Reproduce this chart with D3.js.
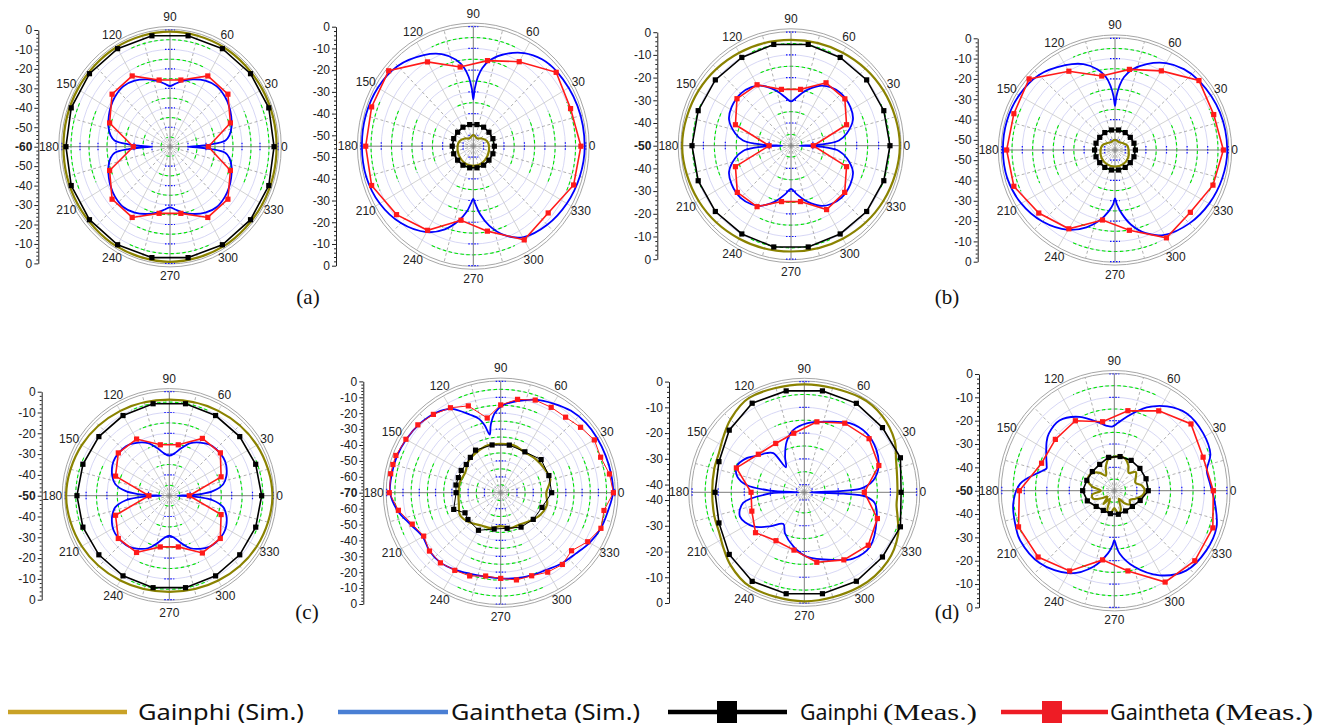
<!DOCTYPE html>
<html lang="en">
<head>
<meta charset="utf-8">
<style>
  body { margin: 0; background: #fff; }
  svg { font-family: 'Liberation Sans', Arial, sans-serif; background: #fff; }
  .grid-ring { fill: none; stroke: #cdcdf2; stroke-width: 0.8; }
  .outer-ring { fill: none; stroke: #a6a6a6; stroke-width: 1; }
  .spoke { stroke: #c6c6c6; stroke-width: 0.8; }
  .spoke.minor { stroke: #9c9c9c; stroke-dasharray: 3, 2.5; }
  .main-axis { stroke: #7c7c7c; stroke-width: 1; }
  .green-arc { fill: none; stroke: #00e600; stroke-width: 1.1; stroke-dasharray: 3.5, 2.5; }
  .blue-tick { stroke: #1414ff; stroke-width: 1.2; stroke-dasharray: 1.5, 1.5; }
  .angle-label { font-size: 12px; fill: #222; }
  .r-axis path, .r-axis line { stroke: #222; }
  .r-axis text { font-size: 12px; fill: #222; font-family: 'Liberation Sans', Arial, sans-serif; }
  .phi-sim { fill: none; stroke: #8a8200; stroke-width: 2.2; }
  .theta-sim { fill: none; stroke: #0000ff; stroke-width: 1.8; }
  .phi-meas { fill: none; stroke: #000; stroke-width: 1.6; }
  .theta-meas { fill: none; stroke: #ff1a1a; stroke-width: 1.6; }
  .thin .phi-meas, .thin .theta-meas { stroke-width: 1; }
  .panel-tag { font-family: 'Liberation Serif', 'Times New Roman', serif; font-size: 21px; fill: #111; }
  .legend text { font-family: 'Noto Sans', 'Open Sans', sans-serif; font-size: 22px; fill: #111; }
  .legend text.serif { font-family: 'Liberation Serif', 'Times New Roman', serif; font-size: 23px; }
</style>
</head>
<body>
<svg width="1320" height="728"></svg>
<script src="https://cdn.jsdelivr.net/npm/d3@7"></script>
<script>
// measured points are every 20 deg unless given as [angle, dB] pairs
const ang20 = [0, 20, 40, 60, 80, 100, 120, 140, 160, 180, 200, 220, 240, 260, 280, 300, 320, 340];
const angleTicks = [0, 30, 60, 90, 120, 150, 180, 210, 240, 270, 300, 330];
const panelTags = ["(a)", "(b)", "(c)", "(d)"];

// ---- (a) left ----
const a1PhiSim = [[0,-0.8],[30,-0.8],[60,-0.8],[90,-0.8],[120,-0.8],[150,-0.8],[180,-0.8],[210,-0.8],[240,-0.8],[270,-0.8],[300,-0.8],[330,-0.8]];
const a1ThetaSim = [[0,-50],[1.5,-44],[3,-37],[6,-29],[10,-26.5],[17,-24.2],[25,-22.5],[32,-21.2],[40,-20.1],[50,-19.5],[60,-20.8],[70,-23.2],[78,-25.4],[85,-27.6],[90,-28.8],[95,-27.6],[102,-25.4],[110,-23.2],[120,-20.8],[130,-19.5],[140,-20.1],[148,-21.2],[155,-22.5],[163,-24.2],[170,-26.5],[174,-29],[177,-37],[178.5,-44],[180,-50],[181.5,-44],[183,-37],[186,-29],[190,-26.5],[197,-24.2],[205,-22.5],[212,-21.2],[220,-20.1],[230,-19.5],[240,-20.8],[250,-23.2],[258,-25.4],[265,-27.6],[270,-28.8],[275,-27.6],[282,-25.4],[290,-23.2],[300,-20.8],[310,-19.5],[320,-20.1],[328,-21.2],[335,-22.5],[343,-24.2],[350,-26.5],[354,-29],[357,-37],[358.5,-44]];
const a1PhiMeas = [-2.2,-1.6,-1.6,-1.8,-2.1,-2.1,-1.8,-1.6,-1.6,-2.2,-1.6,-1.6,-1.8,-2.1,-2.1,-1.8,-1.6,-1.6];
const a1ThetaMeas = [-38.7,-24.3,-18,-18,-25.2,-25.2,-18,-18,-24.3,-39.6,-24.3,-18,-18,-25.2,-25.2,-18,-18,-24.3];

// ---- (a) right ----
const a2PhiSim = [[0,-47.3],[20,-47.9],[40,-49.5],[60,-50.9],[75,-50.6],[90,-49.8],[105,-50.6],[120,-50.9],[140,-49.5],[160,-47.9],[180,-47.3],[210,-46.8],[240,-46.2],[270,-45.9],[300,-46.2],[330,-46.8]];
const a2ThetaSim = [[0,-0.55],[20,-0.8],[40,-1.65],[50,-2.75],[60,-5.5],[70,-9.9],[78,-14.3],[83,-18.7],[86,-23.1],[88.5,-28.6],[90,-33.5],[91.5,-28.6],[94,-23.1],[97,-18.7],[102,-14.3],[110,-9.9],[120,-6.6],[135,-2.75],[150,-1.1],[165,-0.55],[180,-0.55],[195,-0.8],[210,-2.2],[225,-4.95],[240,-9.35],[250,-14.3],[258,-19.8],[264,-24.75],[268,-29.15],[270,-30.8],[272,-28.6],[276,-23.65],[282,-17.6],[290,-11.55],[300,-6.6],[315,-3.85],[330,-2.2],[345,-1.1]];
const a2PhiMeas = [-44.7,-44.8,-45,-44.9,-44.9,-44.9,-44.9,-45,-44.8,-44.7,-44.8,-45,-44.9,-44.9,-44.9,-44.9,-45,-44.8];
const a2ThetaMeas = [-2.4,-4.4,-2.1,-10.1,-15,-18,-10.2,-1,-2.1,-2.4,-2.1,-6,-10.3,-20.4,-15.3,-5.2,-7.2,-2.8];

// ---- (b) left ----
const b1PhiSim = [[0,-0.3],[30,-1.3],[60,-2.7],[90,-3.4],[120,-2.7],[150,-1.3],[180,-0.3],[210,-1.3],[240,-2.7],[270,-3.4],[300,-2.7],[330,-1.3]];
const b1ThetaSim = [[0,-46],[1.5,-39],[3,-33.5],[6,-28],[12,-24],[22,-19.5],[32,-18],[45,-17.5],[55,-18.5],[62,-20],[70,-23],[76,-25.5],[83,-28.5],[90,-30.5],[97,-28.5],[104,-25.5],[110,-23],[118,-20],[125,-18.5],[135,-17.5],[148,-18],[158,-19.5],[168,-24],[174,-28],[177,-33.5],[178.5,-39],[180,-46],[181.5,-39],[183,-33.5],[186,-28],[192,-24],[202,-19.5],[212,-18],[225,-17.5],[235,-18.5],[242,-20],[250,-23],[256,-25.5],[263,-28.5],[270,-31],[277,-28.5],[284,-25.5],[290,-23],[298,-20],[305,-18.5],[315,-17.5],[328,-18],[338,-19.5],[348,-24],[354,-28],[357,-33.5],[358.5,-39]];
const b1PhiMeas = [-4.8,-4.9,-4.9,-5.1,-4.7,-4.7,-5.1,-4.9,-4.9,-4.8,-4.9,-4.9,-5.1,-4.7,-4.7,-5.1,-4.9,-4.9];
const b1ThetaMeas = [-39.8,-23,-17.9,-18,-24.8,-24.8,-19,-17.8,-23,-40,-23,-18,-19,-25,-25,-17.5,-18,-23];

// ---- (b) right ----
const b2PhiSim = [[0,-48.4],[20,-48.6],[40,-49.8],[60,-50.6],[75,-50.4],[90,-50],[105,-50.4],[120,-50.6],[140,-49.8],[160,-48.4],[180,-48],[210,-47.4],[240,-47],[270,-46.8],[300,-47],[330,-47.6]];
const b2ThetaSim = [[0,-0.5],[20,-0.8],[40,-1.8],[50,-3],[60,-5.6],[70,-10],[78,-14.5],[83,-18.8],[86,-23.2],[88.5,-28.5],[90,-33.3],[91.5,-28.5],[94,-23.2],[97,-18.8],[102,-14.5],[110,-10],[120,-6.8],[135,-2.8],[150,-1.2],[165,-0.6],[180,-0.6],[195,-0.9],[210,-2.4],[225,-5.2],[240,-9.6],[250,-14.5],[258,-19.6],[264,-24.5],[268,-28.2],[270,-31.2],[272,-28.2],[276,-23.5],[282,-17.4],[290,-11.4],[300,-6.8],[315,-3.9],[330,-2.2],[345,-1.1]];
const b2PhiMeas = [-45.1,-45.2,-45.3,-45.1,-45,-45,-45.1,-45.3,-45.2,-45.1,-45.2,-45.3,-45.1,-45,-45,-45.1,-45.3,-45.2];
const b2ThetaMeas = [-2.4,-4,-1.8,-10,-14.7,-18,-10.2,-0.55,-2.75,-2.4,-2.75,-6.7,-10.2,-20,-14.85,-5.05,-7.25,-4.4];

// ---- (c) left ----
const c1PhiSim = [[0,-0.4],[30,-1.4],[60,-2.9],[90,-3.8],[120,-2.9],[150,-1.4],[180,-0.4],[210,-1.4],[240,-2.9],[270,-3.8],[300,-2.9],[330,-1.4]];
const c1ThetaSim = [[0,-46],[1.5,-40],[3,-35],[6,-29],[12,-23.5],[19,-21],[28,-19],[35,-18.25],[45,-18.25],[52,-18.75],[60,-20.5],[68,-22.75],[76,-26.5],[83,-29.5],[90,-30.75],[97,-29.5],[104,-26.5],[112,-22.75],[120,-20.5],[128,-18.75],[135,-18.25],[145,-18.25],[152,-19],[161,-21],[168,-23.5],[174,-29],[177,-35],[178.5,-40],[180,-46],[181.5,-40],[183,-35],[186,-29],[192,-23.5],[199,-21],[208,-19],[215,-18.25],[225,-18.25],[232,-18.75],[240,-20.5],[248,-22.75],[256,-26.5],[263,-29.5],[270,-30.75],[277,-29.5],[284,-26.5],[292,-22.75],[300,-20.5],[308,-18.75],[315,-18.25],[325,-18.25],[332,-19],[341,-21],[348,-23.5],[354,-29],[357,-35],[358.5,-40]];
const c1PhiMeas = [-5.6,-5.8,-5.8,-5.5,-5.1,-5.1,-5.5,-5.8,-5.8,-5.6,-5.8,-5.8,-5.5,-5.1,-5.1,-5.5,-5.8,-5.8];
const c1ThetaMeas = [-40.4,-23.5,-17.95,-18.2,-25.15,-25.15,-18.55,-18,-22.5,-40.2,-22.5,-18,-18.5,-25,-25,-18.2,-18,-23.5];

// ---- (c) right ----
const c2PhiSim = [[0,-42],[15,-38.5],[30,-39.2],[45,-39.9],[60,-40.6],[75,-39.2],[90,-39.2],[105,-39.2],[120,-40.6],[135,-42],[150,-44.8],[165,-44.1],[180,-44.1],[195,-43.4],[210,-41.3],[225,-43.4],[240,-46.2],[255,-46.9],[270,-49],[285,-46.9],[300,-46.9],[315,-44.8],[330,-42],[345,-40.6]];
const c2ThetaSim = [[0,-1.05],[10,-1.2],[20,-1.5],[30,-1.55],[40,-1.75],[50,-2.8],[60,-5.25],[70,-7.7],[80,-11.55],[88,-14.7],[94,-19.6],[98,-26.6],[100.5,-32.9],[103,-26.6],[106,-21.7],[111,-17.5],[120,-9.1],[128,-5.95],[139,-4],[150,-2.95],[160,-2.25],[170,-2.1],[180,-2.1],[190,-5.6],[200,-11.2],[210,-14.7],[220,-12.95],[230,-12.6],[240,-14],[250,-15.75],[260,-16.45],[270,-16.1],[280,-15.4],[290,-14.7],[300,-14],[310,-11.9],[320,-10.15],[330,-7],[340,-4.55],[350,-3.15]];
const c2PhiMeas = [[0,-38.7],[20,-38.5],[40,-37.6],[60,-40.3],[80,-39.6],[100,-39.5],[120,-39.1],[130,-41],[140,-42.4],[150,-42],[160,-42.3],[170,-42.1],[180,-42.6],[200,-39.3],[210,-44.7],[220,-43.75],[240,-42.7],[260,-46.8],[280,-47.25],[300,-45],[320,-43.9],[340,-43]];
const c2ThetaMeas = [[0,-0.8],[10,-2.2],[20,-4.7],[30,-3.6],[40,-6],[50,-8],[60,-8],[70,-8],[80,-10.4],[90,-14.8],[100,-22.3],[110,-11.9],[120,-8.3],[130,-5.7],[140,-3.6],[150,-2.8],[160,-1.5],[165,-1.5],[170,-1.4],[180,-1.6],[190,-6.2],[200,-12.2],[210,-15.4],[220,-12.9],[230,-12.4],[240,-13.6],[250,-14.3],[260,-16.8],[270,-16.1],[280,-14.3],[290,-14.4],[300,-12.3],[310,-11.1],[320,-13.2],[330,-8.3],[340,-4.5],[350,-5.6]];

// ---- (d) left ----
const d1PhiSim = [[0,-7.3],[10,-6.9],[20,-5.6],[30,-3],[45,-0.9],[60,-0.4],[90,-1.1],[120,-0.65],[135,-3],[145,-5.2],[155,-6.9],[165,-7.3],[180,-7.7],[195,-7.3],[205,-6.9],[215,-5.2],[225,-3],[240,-0.9],[270,-0.65],[300,-0.65],[320,-1.3],[335,-3.4],[345,-6],[352,-7.3]];
const d1ThetaSim = [[0,-40.8],[2,-30.1],[3.5,-21.6],[6,-18.9],[10,-16.1],[19,-12.9],[31,-10.8],[44,-9.9],[57,-11],[73,-14.3],[88,-16.2],[100,-18.45],[109,-22.2],[118,-27.3],[126,-31],[128,-23.7],[134,-21.9],[140,-20.6],[149,-17.2],[159,-15.2],[166.6,-16.6],[172.7,-20.7],[177,-29.8],[180,-40.8],[182,-30.1],[190,-19.2],[201,-16.6],[214,-19.35],[225,-24.3],[237,-28.3],[245,-25.45],[259,-21.5],[272,-18],[293,-14.45],[306,-11.2],[320,-10.15],[339,-13.3],[351,-15.6],[356,-19.35],[358,-27.95]];
const d1PhiMeas = [-5.9,-3.8,-3.9,-3.1,-3,-3,-3.05,-5.45,-8.2,-8.8,-8.2,-5.45,-3.05,-3,-3,-3.1,-3.9,-3.8];
const d1ThetaMeas = [-20,-12.6,-10.6,-12,-15.2,-19.7,-21.1,-20,-15.3,-22.6,-21.6,-18.6,-21.3,-20.2,-15.4,-12.7,-11,-13.2];

// ---- (d) right ----
const d2PhiSim = [[0,-36.5],[10,-37.5],[20,-40],[30,-39],[40,-37.5],[50,-40],[60,-37.5],[70,-35.5],[80,-35],[90,-35.5],[100,-36],[110,-39],[120,-42.5],[130,-40],[140,-38],[150,-37],[160,-37.5],[170,-40],[180,-44],[190,-40],[200,-40],[210,-43.5],[220,-46],[230,-42.5],[240,-46],[250,-41],[260,-40],[270,-42.5],[280,-40],[290,-41.5],[300,-46],[310,-43],[320,-41],[330,-42],[340,-40],[350,-37.5]];
const d2ThetaSim = [[4,-7.35],[12,-8],[20,-4.55],[32,-3.45],[46,-3.85],[57,-6.9],[68,-11.5],[80,-17.8],[87,-21],[92,-22.5],[97,-22],[102,-20.45],[116,-14.8],[129,-11.25],[140,-12],[145,-13.3],[154,-16.35],[160,-18],[162.5,-18.4],[165,-17],[168,-14.7],[176,-8],[187,-4.75],[200,-3.5],[207,-3.05],[223,-4.6],[241,-9.5],[254,-16.1],[264,-23],[268,-26.5],[270,-28.85],[272,-26.5],[275,-23],[285,-16.35],[299,-8.55],[313,-3.2],[328,-1.75],[341,-1.95],[353,-4.9]];
const d2PhiMeas = [-34.9,-35,-35.15,-35,-35.15,-35.5,-37,-37.25,-37,-35.95,-37.25,-39.5,-40.25,-40,-39.75,-40,-39.5,-37.75];
const d2ThetaMeas = [-6,-8,-5.5,-10.5,-15.2,-20,-15.4,-15.8,-15.6,-7.8,-4.7,-5.8,-10.3,-19.9,-15.1,-4.8,-3.3,-3.4];

const svg = d3.select("svg");

const panels = [
  {cx: 170,   cy: 146.7, rx: 108,   ry: 116.7, min: -60, axisX: 38.3,
   phiSim: a1PhiSim, thetaSim: a1ThetaSim, phiMeas: d3.zip(ang20, a1PhiMeas), thetaMeas: d3.zip(ang20, a1ThetaMeas)},
  {cx: 473.3, cy: 146.2, rx: 112.5, ry: 119.5, min: -55, axisX: 336,
   phiSim: a2PhiSim, thetaSim: a2ThetaSim, phiMeas: d3.zip(ang20, a2PhiMeas), thetaMeas: d3.zip(ang20, a2ThetaMeas)},
  {cx: 791,   cy: 145.7, rx: 109.5, ry: 113.5, min: -50, axisX: 657.3,
   phiSim: b1PhiSim, thetaSim: b1ThetaSim, phiMeas: d3.zip(ang20, b1PhiMeas), thetaMeas: d3.zip(ang20, b1ThetaMeas)},
  {cx: 1115,  cy: 150,   rx: 113.3, ry: 111.7, min: -55, axisX: 977.7,
   phiSim: b2PhiSim, thetaSim: b2ThetaSim, phiMeas: d3.zip(ang20, b2PhiMeas), thetaMeas: d3.zip(ang20, b2ThetaMeas)},
  {cx: 169.3, cy: 495.7, rx: 104,   ry: 104,   min: -50, axisX: 41.7,
   phiSim: c1PhiSim, thetaSim: c1ThetaSim, phiMeas: d3.zip(ang20, c1PhiMeas), thetaMeas: d3.zip(ang20, c1ThetaMeas)},
  {cx: 500.7, cy: 492.7, rx: 114,   ry: 111.3, min: -70, axisX: 363.3, thin: true,
   phiSim: c2PhiSim, thetaSim: c2ThetaSim, phiMeas: c2PhiMeas, thetaMeas: c2ThetaMeas},
  {cx: 804.3, cy: 492.3, rx: 112.2, ry: 110.7, min: -43, axisX: 669,
   phiSim: d1PhiSim, thetaSim: d1ThetaSim, phiMeas: d3.zip(ang20, d1PhiMeas), thetaMeas: d3.zip(ang20, d1ThetaMeas)},
  {cx: 1114.3, cy: 490.7, rx: 112.5, ry: 116.7, min: -50, axisX: 979,
   phiSim: d2PhiSim, thetaSim: d2ThetaSim, phiMeas: d3.zip(ang20, d2PhiMeas), thetaMeas: d3.zip(ang20, d2ThetaMeas)}
];

function drawPolar(p) {
  const g = svg.append("g").classed("thin", !!p.thin);
  const r = d3.scaleLinear().domain([p.min, 0]).range([0, 1]).clamp(true);
  const rad = d => d * Math.PI / 180;
  const xy = (deg, db) => [p.cx + p.rx * r(db) * Math.cos(rad(deg)), p.cy - p.ry * r(db) * Math.sin(rad(deg))];
  const xyf = (deg, f) => [p.cx + p.rx * f * Math.cos(rad(deg)), p.cy - p.ry * f * Math.sin(rad(deg))];

  // concentric rings every 5 dB
  g.selectAll(".grid-ring").data(d3.range(-5, p.min, -5)).join("ellipse")
    .attr("class", "grid-ring")
    .attr("cx", p.cx).attr("cy", p.cy)
    .attr("rx", d => p.rx * r(d)).attr("ry", d => p.ry * r(d));

  // spokes every 15 deg
  g.selectAll(".spoke").data(d3.range(0, 360, 15).filter(a => a % 90 !== 0)).join("line")
    .attr("class", a => a % 30 === 0 ? "spoke" : "spoke minor")
    .attr("x1", p.cx).attr("y1", p.cy)
    .attr("x2", a => xyf(a, 1)[0]).attr("y2", a => xyf(a, 1)[1]);

  // green dashed arcs around the four axes
  const arcLine = d3.line();
  const arcs = [];
  d3.range(-5, p.min, -10).forEach(db => [0, 90, 180, 270].forEach(c => arcs.push({db, c})));
  g.selectAll(".green-arc").data(arcs).join("path")
    .attr("class", "green-arc")
    .attr("d", d => arcLine(d3.range(d.c - 24, d.c + 24.01, 1).map(a => xy(a, d.db))));

  // outer double ring
  g.selectAll(".outer-ring").data([1.005, 1.03]).join("ellipse")
    .attr("class", "outer-ring")
    .attr("cx", p.cx).attr("cy", p.cy)
    .attr("rx", k => p.rx * k).attr("ry", k => p.ry * k);

  // main axes
  g.append("line").attr("class", "main-axis")
    .attr("x1", p.cx - p.rx).attr("x2", p.cx + p.rx).attr("y1", p.cy).attr("y2", p.cy);
  g.append("line").attr("class", "main-axis")
    .attr("x1", p.cx).attr("x2", p.cx).attr("y1", p.cy - p.ry).attr("y2", p.cy + p.ry);

  // blue dotted ticks on the main axes
  const bt = [];
  d3.range(0, p.min, -10).forEach(db => [0, 90, 180, 270].forEach(a => bt.push({db, a})));
  g.selectAll(".blue-tick").data(bt).join("line")
    .attr("class", "blue-tick")
    .attr("x1", d => xy(d.a, d.db)[0] - (d.a % 180 === 0 ? 0 : 5))
    .attr("x2", d => xy(d.a, d.db)[0] + (d.a % 180 === 0 ? 0 : 5))
    .attr("y1", d => xy(d.a, d.db)[1] - (d.a % 180 === 0 ? 4 : 0))
    .attr("y2", d => xy(d.a, d.db)[1] + (d.a % 180 === 0 ? 4 : 0));

  // series
  const smooth = d3.line().curve(d3.curveCatmullRomClosed.alpha(0.5));
  const poly = d3.line().curve(d3.curveLinearClosed);
  g.append("path").attr("class", "phi-sim").attr("d", smooth(p.phiSim.map(d => xy(d[0], d[1]))));
  g.append("path").attr("class", "phi-meas").attr("d", poly(p.phiMeas.map(d => xy(d[0], d[1]))));
  g.append("g").selectAll("rect").data(p.phiMeas).join("rect")
    .attr("x", d => xy(d[0], d[1])[0] - 2.6).attr("y", d => xy(d[0], d[1])[1] - 2.6)
    .attr("width", 5.2).attr("height", 5.2).attr("fill", "#000");
  g.append("path").attr("class", "theta-sim").attr("d", smooth(p.thetaSim.map(d => xy(d[0], d[1]))));
  g.append("path").attr("class", "theta-meas").attr("d", poly(p.thetaMeas.map(d => xy(d[0], d[1]))));
  g.append("g").selectAll("rect").data(p.thetaMeas).join("rect")
    .attr("x", d => xy(d[0], d[1])[0] - 2.6).attr("y", d => xy(d[0], d[1])[1] - 2.6)
    .attr("width", 5.2).attr("height", 5.2).attr("fill", "#ff1a1a");

  // angle labels
  g.selectAll(".angle-label").data(angleTicks).join("text")
    .attr("class", "angle-label")
    .attr("text-anchor", "middle").attr("dominant-baseline", "central")
    .attr("x", a => {
      const c = Math.cos(rad(a)), w = 6.7 * String(a).length;
      return p.cx + (p.rx + 3 + (w / 2) * Math.abs(c)) * c;
    })
    .attr("y", a => {
      const s = Math.sin(rad(a));
      return p.cy - (p.ry + 6 + 7 * Math.abs(s)) * s;
    })
    .text(a => a);

  // radial scale drawn as a vertical axis: 0 at top, min at centre, 0 at bottom
  const yTop = d3.scaleLinear().domain([p.min, 0]).range([p.cy, p.cy - p.ry]);
  const yBot = d3.scaleLinear().domain([p.min, 0]).range([p.cy, p.cy + p.ry]);
  const majors = d3.range(0, p.min - 0.01, -10);
  const minors = d3.range(0, p.min - 0.01, -2).filter(v => v % 10 !== 0);
  const ax = g.append("g").attr("class", "r-axis").attr("transform", `translate(${p.axisX},0)`);
  [yTop, yBot].forEach((sc, i) => {
    ax.append("g").call(d3.axisLeft(sc).tickValues(majors.filter(v => i === 0 || v !== p.min))
      .tickSize(4).tickSizeOuter(0).tickPadding(2).tickFormat(d => String(d)));
    ax.append("g").call(d3.axisLeft(sc).tickValues(minors).tickSize(2).tickSizeOuter(0).tickFormat(""))
      .call(s => s.select(".domain").remove());
  });
  ax.selectAll("text").filter(d => d === p.min).style("font-weight", "bold");
}

panels.forEach(drawPolar);

// panel tags
const tagPos = [[308, 304], [947, 304], [307, 619], [947, 619]];
svg.selectAll(".panel-tag").data(panelTags).join("text")
  .attr("class", "panel-tag").attr("text-anchor", "middle")
  .attr("x", (d, i) => tagPos[i][0]).attr("y", (d, i) => tagPos[i][1])
  .text(d => d);

// legend
const legendItems = [
  {name: "Gainphi (Sim.)", color: "#c9a227", x0: 8, x1: 127, tx: 138, tw: 166},
  {name: "Gaintheta (Sim.)", color: "#4a7fd4", x0: 338, x1: 448, tx: 451, tw: 189},
  {name: "Gainphi", suffix: "(Meas.)", color: "#000", x0: 668, x1: 787, tx: 800, tw: 78, sw: 94, marker: 727},
  {name: "Gaintheta", suffix: "(Meas.)", color: "#ee1c25", x0: 1001, x1: 1108, tx: 1110, tw: 100, sw: 98, marker: 1052}
];
const leg = svg.append("g").attr("class", "legend");
const ly = 712;
legendItems.forEach(it => {
  leg.append("line").attr("x1", it.x0).attr("x2", it.x1).attr("y1", ly).attr("y2", ly)
    .attr("stroke", it.color).attr("stroke-width", 4.5);
  if (it.marker) {
    leg.append("rect").attr("x", it.marker - 10).attr("y", ly - 11).attr("width", 20).attr("height", 22)
      .attr("fill", it.color);
  }
  leg.append("text").attr("x", it.tx).attr("y", ly + 8)
    .attr("textLength", it.tw).attr("lengthAdjust", "spacingAndGlyphs").text(it.name);
  if (it.suffix) {
    leg.append("text").attr("class", "serif").attr("x", it.tx + it.tw + 5).attr("y", ly + 8)
      .attr("textLength", it.sw).attr("lengthAdjust", "spacingAndGlyphs").text(it.suffix);
  }
});
</script>
</body>
</html>
